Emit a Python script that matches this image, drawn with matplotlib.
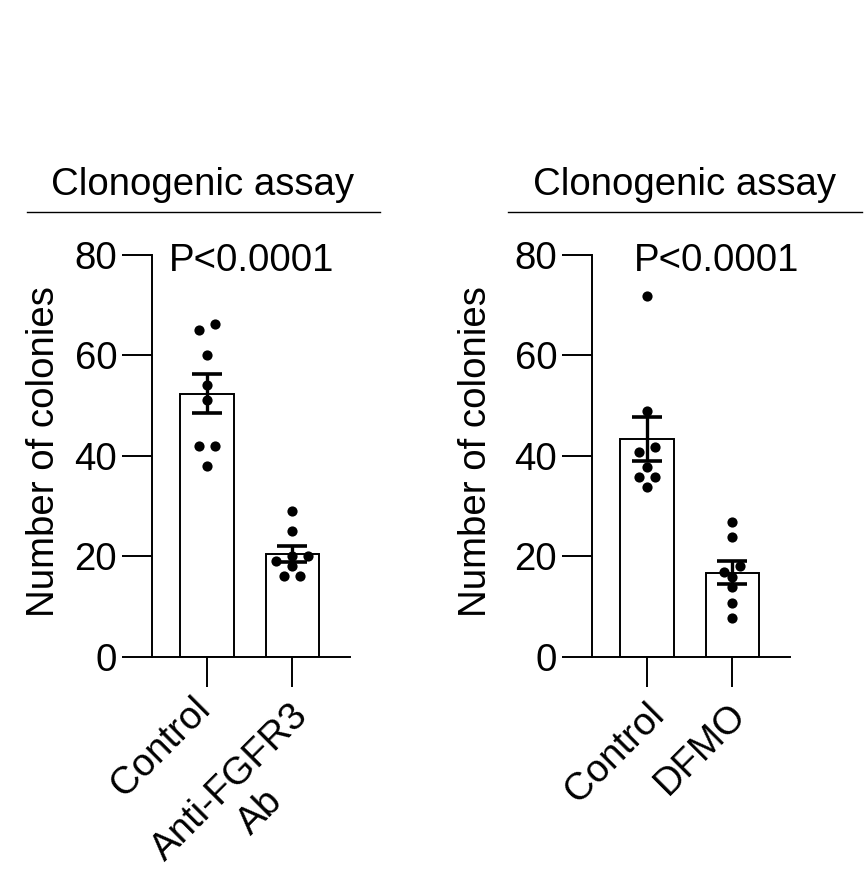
import numpy as np
import matplotlib.pyplot as plt
from matplotlib.lines import Line2D
from matplotlib.transforms import ScaledTranslation

plt.rcParams["font.family"] = ["Liberation Sans", "DejaVu Sans"]

W, H = 867, 884
FS = 27.6

# colony counts per well
fgfr3_groups = ["Control", "Anti-FGFR3\nAb"]
fgfr3_control = [66.1, 65.0, 60.1, 54.1, 51.1, 42.0, 42.0, 38.0]
fgfr3_antibody = [29.0, 25.1, 20.0, 20.0, 19.0, 18.1, 16.1, 16.1]

dfmo_groups = ["Control", "DFMO"]
dfmo_control = [71.8, 48.9, 41.8, 40.8, 37.8, 35.8, 35.8, 33.7]
dfmo_treated = [26.9, 23.8, 18.1, 16.8, 16.0, 13.9, 10.8, 7.8]

p_text = "P<0.0001"
title = "Clonogenic assay"
ylabel = "Number of colonies"
y_ticks = [0, 20, 40, 60, 80]


def swarm(values, row_gap=1.5, step=0.094):
    """Prism-like swarm: points close in y share a row, spread around the centre."""
    vals = np.asarray(values, float)
    rows = []
    for i in np.argsort(-vals, kind="stable"):
        if rows and vals[rows[-1][0]] - vals[i] <= row_gap:
            rows[-1].append(i)
        else:
            rows.append([i])
    offs = np.zeros(len(vals))
    for row in rows:
        row = sorted(row, key=lambda j: vals[j])
        for k, j in enumerate(row):
            offs[j] = (k - (len(row) - 1) / 2) * 2 * step
    return offs


def draw_panel(fig, left_px, groups, samples, p_x, label_shifts):
    ax = fig.add_axes([left_px / W, 1 - 657 / H, 198 / W, 402.5 / H])
    for i, vals in enumerate(samples):
        vals = np.asarray(vals)
        mean = vals.mean()
        sem = vals.std(ddof=1) / np.sqrt(len(vals))
        ax.bar(i, mean, width=0.625, color="white", edgecolor="black",
               linewidth=1.4, zorder=1)
        ax.scatter(i + swarm(vals), vals, s=54, color="black", zorder=3,
                   linewidths=0)
        ax.errorbar(i, mean, yerr=sem, color="black", elinewidth=2.4,
                    capsize=10.8, capthick=2.6, zorder=4)

    ax.set_xlim(-0.645, 1.675)
    ax.set_ylim(0, 80)
    ax.set_yticks(y_ticks)
    ax.set_xticks(range(len(groups)))
    ax.set_xticklabels(groups, rotation=45, ha="right", va="top",
                       rotation_mode="anchor", multialignment="center")
    ax.tick_params(axis="both", direction="out", length=21.6, width=1.4,
                   labelsize=FS, pad=3.5)
    for sp in ["top", "right"]:
        ax.spines[sp].set_visible(False)
    for sp in ["left", "bottom"]:
        ax.spines[sp].set_linewidth(1.4)
    for lab, (dx, dy) in zip(ax.get_xticklabels(), label_shifts):
        lab.set_transform(lab.get_transform() +
                          ScaledTranslation(dx / 100, -dy / 100, fig.dpi_scale_trans))

    ax.text(p_x, 76.7, p_text, ha="center", va="baseline", fontsize=FS)
    return ax


fig = plt.figure(figsize=(W / 100, H / 100), dpi=100)

draw_panel(fig, 152, fgfr3_groups, [fgfr3_control, fgfr3_antibody],
           0.52, [(-15, -1), (-2, 6)])
draw_panel(fig, 592, dfmo_groups, [dfmo_control, dfmo_treated],
           0.82, [(-1, 5), (-5, 5)])

# panel headers with rule underneath
for cx, x0, x1 in [(203, 27, 380), (685, 508, 862)]:
    fig.text(cx / W, 1 - 195 / H, title, ha="center", va="baseline", fontsize=FS)
    fig.add_artist(Line2D([x0 / W, x1 / W], [1 - 212 / H, 1 - 212 / H],
                          color="black", linewidth=1.0))

for x in [44, 476]:
    fig.text(x / W, 1 - 452 / H, ylabel, rotation=90, ha="center",
             va="center", fontsize=FS)

fig.savefig("out.png", dpi=100, facecolor="white")
